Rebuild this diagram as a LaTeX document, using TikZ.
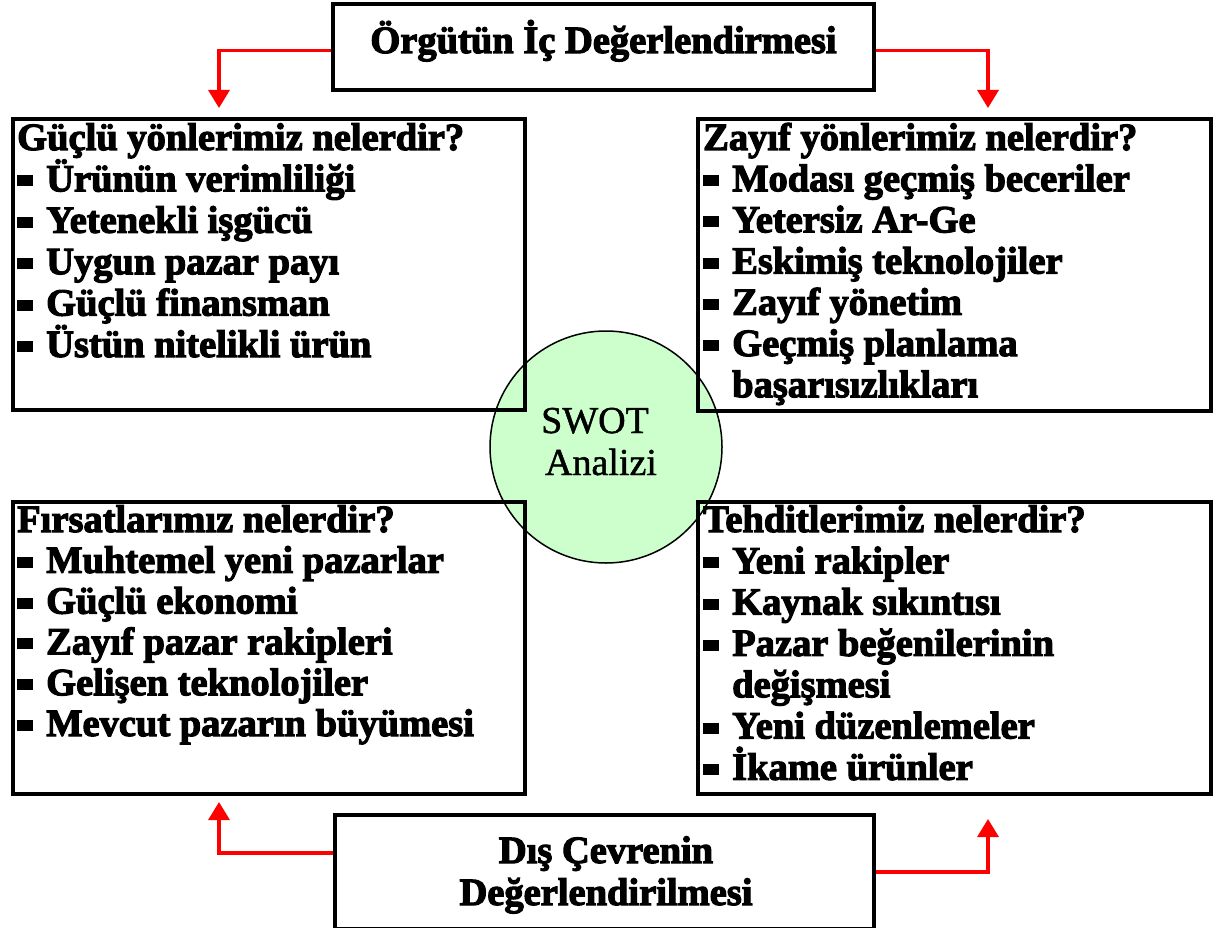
\documentclass[tikz,border=0pt]{standalone}
\usepackage{fontspec}
\setmainfont{Liberation Serif}[BoldFeatures={FakeBold=3}]
\newfontfamily\centrefont{Liberation Serif}[FakeBold=1.2]
\usetikzlibrary{arrows.meta}
\definecolor{swotgreen}{RGB}{204,255,204}
\newcommand{\blt}{\makebox[29pt][l]{\rule[5pt]{16pt}{11pt}}}
\newcommand{\hng}{\hspace*{29pt}}
\tikzset{
  panel/.style={draw=black, line width=4pt},
  flow/.style={draw=red, line width=3.3pt, -{Triangle[width=21pt,length=18pt]}},
  txt/.style={anchor=base west, inner sep=0pt, font=\fontsize{38.5}{41}\selectfont\bfseries},
  ctxt/.style={anchor=base, inner sep=0pt, font=\fontsize{38.5}{41}\selectfont\bfseries},
  ltxt/.style={anchor=base, inner sep=0pt, font=\fontsize{38}{41}\selectfont\centrefont},
}
\begin{document}
\begin{tikzpicture}[x=1pt,y=-1pt]
\useasboundingbox (0,0) rectangle (1218,928);
\fill[white] (0,0) rectangle (1218,928);

% central circle, drawn beneath the panel borders
\node[circle, fill=swotgreen, draw=black, line width=1.5pt, minimum size=232pt, inner sep=0pt] (swot) at (606,447) {};
\node[ltxt] (swot1) at (595,433) {SWOT};
\node[ltxt] (swot2) at (601,475) {Analizi};

% top and bottom assessment boxes
\node[panel, minimum width=541pt, minimum height=86pt, inner sep=0pt] (ic) at (603.5,47) {};
\node[ctxt] (ict) at (603.5,53) {Örgütün İç Değerlendirmesi};
\node[panel, minimum width=539pt, minimum height=114pt, inner sep=0pt] (dis) at (604.5,872) {};
\node[ctxt] (dis1) at (606,863) {Dış Çevrenin};
\node[ctxt] (dis2) at (606,905) {Değerlendirilmesi};

% four quadrant panels
\node[panel, minimum width=512pt, minimum height=291pt, inner sep=0pt, anchor=north west] (S) at (11,117) {};
\node[panel, minimum width=513pt, minimum height=292pt, inner sep=0pt, anchor=north west] (W) at (696,117) {};
\node[panel, minimum width=512pt, minimum height=292pt, inner sep=0pt, anchor=north west] (O) at (11,500) {};
\node[panel, minimum width=513pt, minimum height=292pt, inner sep=0pt, anchor=north west] (T) at (696,500) {};

% strengths
\foreach \t [count=\i from 0] in {
  Güçlü yönlerimiz nelerdir?,
  \blt Ürünün verimliliği,
  \blt Yetenekli işgücü,
  \blt Uygun pazar payı,
  \blt Güçlü finansman,
  \blt Üstün nitelikli ürün}
  \node[txt] (s\i) at (17,150+41.4*\i) {\t};

% weaknesses
\foreach \t [count=\i from 0] in {
  Zayıf yönlerimiz nelerdir?,
  \blt Modası geçmiş beceriler,
  \blt Yetersiz Ar-Ge,
  \blt Eskimiş teknolojiler,
  \blt Zayıf yönetim,
  \blt Geçmiş planlama,
  \hng başarısızlıkları}
  \node[txt] (w\i) at (703,150+41.2*\i) {\t};

% opportunities
\foreach \t [count=\i from 0] in {
  Fırsatlarımız nelerdir?,
  \blt Muhtemel yeni pazarlar,
  \blt Güçlü ekonomi,
  \blt Zayıf pazar rakipleri,
  \blt Gelişen teknolojiler,
  \blt Mevcut pazarın büyümesi}
  \node[txt] (o\i) at (17,532+40.8*\i) {\t};

% threats
\foreach \t [count=\i from 0] in {
  Tehditlerimiz nelerdir?,
  \blt Yeni rakipler,
  \blt Kaynak sıkıntısı,
  \blt Pazar beğenilerinin,
  \hng değişmesi,
  \blt Yeni düzenlemeler,
  \blt İkame ürünler}
  \node[txt] (t\i) at (703,532+41.3*\i) {\t};

% connectors from the assessment boxes to the panels
\coordinate (icL) at (ic.west |- 0,50.7);
\coordinate (icR) at (ic.east |- 0,50.7);
\draw[flow] (icL) -| ([yshift=9pt]S.north -| 219,0);
\draw[flow] (icR) -| ([yshift=9pt]W.north -| 988,0);
\coordinate (disL) at (dis.west |- 0,853);
\coordinate (disR) at (dis.east |- 0,872);
\draw[flow] (disL) -| ([yshift=-6pt]O.south -| 219,0);
\draw[flow] (disR) -| ([yshift=-23pt]T.south -| 988,0);
\end{tikzpicture}
\end{document}
